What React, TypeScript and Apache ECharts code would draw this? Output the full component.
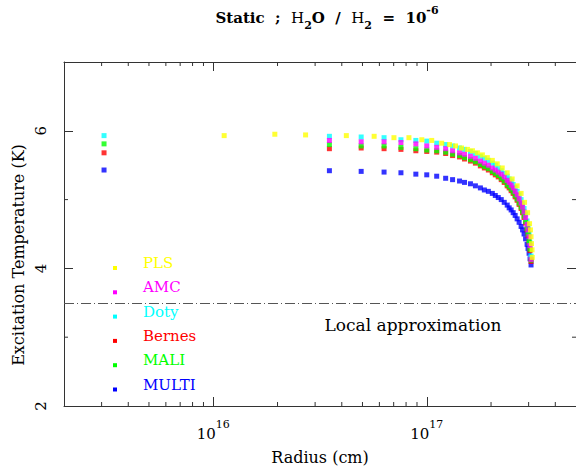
import React, { useEffect, useRef } from 'react';
import * as echarts from 'echarts';

const FONT = 'DejaVu Serif';

const seriesNames = ['PLS', 'AMC', 'Doty', 'Bernes', 'MALI', 'MULTI'];
const seriesColors = ['#ffff00', '#ff00ff', '#00ffff', '#ff0000', '#00ff00', '#0000ff'];

// shared radial grid (cm) for AMC, Doty, Bernes, MALI, MULTI
const gridRadius = [
  3.08e15, 3.5e16, 4.93e16, 6.31e16, 7.57e16, 8.89e16, 1.0e17, 1.113e17, 1.226e17, 1.321e17,
  1.424e17, 1.502e17, 1.602e17, 1.69e17, 1.783e17, 1.861e17, 1.943e17, 2.028e17, 2.094e17, 2.162e17,
  2.233e17, 2.306e17, 2.381e17, 2.432e17, 2.485e17, 2.539e17, 2.594e17, 2.65e17, 2.707e17, 2.766e17,
  2.81e17, 2.856e17, 2.903e17, 2.95e17, 2.981e17, 3.014e17, 3.046e17, 3.079e17,
];
const multiTemp = [
  5.43, 5.42, 5.41, 5.4, 5.39, 5.37, 5.36, 5.34, 5.31, 5.29,
  5.27, 5.25, 5.23, 5.2, 5.17, 5.14, 5.12, 5.09, 5.06, 5.03,
  5.0, 4.96, 4.92, 4.88, 4.85, 4.81, 4.77, 4.72, 4.67, 4.61,
  4.56, 4.5, 4.43, 4.35, 4.29, 4.22, 4.14, 4.05,
];
const dotyTemp = [
  5.93, 5.92, 5.91, 5.9, 5.87, 5.86, 5.85, 5.82, 5.8, 5.78,
  5.75, 5.73, 5.7, 5.67, 5.63, 5.6, 5.57, 5.53, 5.5, 5.46,
  5.42, 5.38, 5.34, 5.3, 5.27, 5.22, 5.18, 5.12, 5.07, 5.0,
  4.94, 4.87, 4.79, 4.69, 4.61, 4.51, 4.37, 4.18,
];
const amcTemp = [
  null, 5.86, 5.84, 5.84, 5.83, 5.81, 5.78, 5.76, 5.74, 5.71,
  5.68, 5.66, 5.63, 5.6, 5.56, 5.53, 5.5, 5.46, 5.43, 5.4,
  5.37, 5.33, 5.28, 5.25, 5.21, 5.17, 5.12, 5.07, 5.01, 4.95,
  4.89, 4.82, 4.74, 4.64, 4.56, 4.46, 4.33, 4.13,
];
const maliTemp = [
  5.81, 5.8, 5.78, 5.78, 5.76, 5.74, 5.72, 5.71, 5.69, 5.66,
  5.64, 5.61, 5.58, 5.55, 5.51, 5.48, 5.45, 5.41, 5.38, 5.35,
  5.31, 5.27, 5.22, 5.19, 5.15, 5.11, 5.06, 5.01, 4.95, 4.89,
  4.83, 4.76, 4.68, 4.58, 4.5, 4.4, 4.28, 4.12,
];
const bernesTemp = [
  5.68, 5.74, 5.75, 5.74, 5.73, 5.71, 5.7, 5.69, 5.67, 5.64,
  5.62, 5.59, 5.56, 5.53, 5.49, 5.46, 5.43, 5.39, 5.36, 5.33,
  5.29, 5.25, 5.2, 5.17, 5.13, 5.09, 5.04, 4.99, 4.93, 4.87,
  4.81, 4.74, 4.66, 4.56, 4.48, 4.38, 4.26, 4.1,
];
// PLS has its own radial grid
const plsRadius = [
  1.125e16, 1.943e16, 2.707e16, 4.201e16, 5.67e16, 7.02e16, 8.25e16, 9.48e16, 1.055e17, 1.175e17,
  1.279e17, 1.364e17, 1.455e17, 1.551e17, 1.637e17, 1.727e17, 1.822e17, 1.922e17, 2.028e17, 2.139e17,
  2.257e17, 2.381e17, 2.512e17, 2.65e17, 2.766e17, 2.871e17, 2.966e17, 3.03e17, 3.06e17, 3.079e17,
  3.095e17, 3.112e17, 3.12e17,
];
const plsTemp = [
  5.93, 5.95, 5.94, 5.93, 5.92, 5.9, 5.9, 5.87, 5.86, 5.82,
  5.8, 5.78, 5.75, 5.73, 5.71, 5.68, 5.65, 5.61, 5.57, 5.52,
  5.46, 5.39, 5.3, 5.2, 5.09, 4.96, 4.81, 4.65, 4.56, 4.46,
  4.36, 4.27, 4.16,
];

const X_MIN = 2e15;
const X_MAX = 5e17;
const Y_MIN = 2;
const Y_MAX = 7;
const xMinorTicks = [
  3e15, 4e15, 5e15, 6e15, 7e15, 8e15, 9e15,
  2e16, 3e16, 4e16, 5e16, 6e16, 7e16, 8e16, 9e16,
  2e17, 3e17, 4e17,
];
const yMinorTicks = [3, 5];
const localApproxLevel = 3.5;

function pairs(rs: number[], ts: (number | null)[]) {
  const out: number[][] = [];
  rs.forEach((r, i) => {
    const t = ts[i];
    if (t != null) out.push([r, t]);
  });
  return out;
}

export default function App() {
  const ref = useRef<HTMLDivElement>(null);
  useEffect(() => {
    const chart = echarts.init(ref.current!, undefined, { renderer: 'svg' });

    const dataByName: Record<string, number[][]> = {
      PLS: pairs(plsRadius, plsTemp),
      AMC: pairs(gridRadius, amcTemp),
      Doty: pairs(gridRadius, dotyTemp),
      Bernes: pairs(gridRadius, bernesTemp),
      MALI: pairs(gridRadius, maliTemp),
      MULTI: pairs(gridRadius, multiTemp),
    };
    const drawOrder = ['MULTI', 'Bernes', 'Doty', 'MALI', 'AMC', 'PLS'];
    const scatterSeries = drawOrder.map((name, k) => ({
      type: 'scatter',
      name,
      xAxisIndex: 0,
      yAxisIndex: 0,
      symbol: 'rect',
      symbolSize: 5,
      itemStyle: { color: seriesColors[seriesNames.indexOf(name)] },
      data: dataByName[name],
      z: 3 + k,
      markLine:
        name === 'MULTI'
          ? {
              silent: true,
              symbol: 'none',
              label: { show: false },
              lineStyle: { color: '#555', type: [10, 3, 1, 3], width: 1 },
              data: [{ yAxis: localApproxLevel }],
            }
          : undefined,
    }));

    const tickColor = '#333';
    const xMinorSeries = {
      type: 'custom',
      xAxisIndex: 0,
      yAxisIndex: 0,
      silent: true,
      z: 2,
      data: xMinorTicks.map((v) => [v, Y_MIN]),
      renderItem: (params: any, api: any) => {
        const v = api.value(0);
        const b = api.coord([v, Y_MIN]);
        const t = api.coord([v, Y_MAX]);
        return {
          type: 'group',
          children: [
            { type: 'line', shape: { x1: b[0], y1: b[1], x2: b[0], y2: b[1] - 4 }, style: { stroke: tickColor, lineWidth: 1 } },
            { type: 'line', shape: { x1: t[0], y1: t[1], x2: t[0], y2: t[1] + 4 }, style: { stroke: tickColor, lineWidth: 1 } },
          ],
        };
      },
    };
    const yMinorSeries = {
      type: 'custom',
      xAxisIndex: 0,
      yAxisIndex: 0,
      silent: true,
      z: 2,
      clip: false,
      data: yMinorTicks.map((v) => [X_MIN, v]),
      renderItem: (params: any, api: any) => {
        const v = api.value(1);
        const l = api.coord([X_MIN, v]);
        const r = api.coord([X_MAX, v]);
        return {
          type: 'group',
          children: [
            { type: 'line', shape: { x1: l[0], y1: l[1], x2: l[0] + 4, y2: l[1] }, style: { stroke: tickColor, lineWidth: 1 } },
            { type: 'line', shape: { x1: r[0], y1: r[1], x2: r[0] - 4, y2: r[1] }, style: { stroke: tickColor, lineWidth: 1 } },
          ],
        };
      },
    };

    const axisLine = { show: true, onZero: false, lineStyle: { color: tickColor, width: 1 } };
    const axisTick = { show: true, inside: true, length: 9, lineStyle: { color: tickColor } };

    const xLabelFormatter = (v: number) => {
      const e = Math.log10(v);
      if (Math.abs(e - Math.round(e)) > 1e-6) return '';
      return '{b|10}{s|' + Math.round(e) + '}';
    };
    const xRich = {
      b: { fontFamily: FONT, fontSize: 15, color: '#000', lineHeight: 22, verticalAlign: 'bottom' },
      s: { fontFamily: FONT, fontSize: 11, color: '#000', lineHeight: 22, verticalAlign: 'top' },
    };

    const legendGraphics: any[] = [];
    seriesNames.forEach((name, i) => {
      const cy = 268 + i * 24.3;
      legendGraphics.push({
        type: 'rect',
        shape: { x: 113, y: cy - 2, width: 4, height: 4 },
        style: { fill: seriesColors[i] },
      });
      legendGraphics.push({
        type: 'text',
        x: 143,
        y: cy - 5,
        style: {
          text: name,
          fill: seriesColors[i],
          font: '15px "' + FONT + '"',
          align: 'left',
          verticalAlign: 'middle',
        },
      });
    });

    const option: any = {
      animation: false,
      backgroundColor: '#ffffff',
      grid: { left: 64, top: 62, width: 515, height: 350, containLabel: false },
      xAxis: [
        {
          type: 'log',
          logBase: 10,
          min: X_MIN,
          max: X_MAX,
          position: 'bottom',
          name: 'Radius (cm)',
          nameLocation: 'middle',
          nameGap: 43,
          nameTextStyle: { fontFamily: FONT, fontSize: 16, color: '#000' },
          axisLine,
          axisTick,
          splitLine: { show: false },
          minorTick: { show: false },
          axisLabel: {
            margin: 13,
            showMinLabel: false,
            showMaxLabel: false,
            formatter: xLabelFormatter,
            rich: xRich,
          },
        },
        {
          type: 'log',
          logBase: 10,
          min: X_MIN,
          max: X_MAX,
          position: 'top',
          axisLine,
          axisTick,
          splitLine: { show: false },
          axisLabel: { show: false },
        },
      ],
      yAxis: [
        {
          type: 'value',
          min: Y_MIN,
          max: Y_MAX,
          interval: 2,
          position: 'left',
          axisLine,
          axisTick,
          splitLine: { show: false },
          axisLabel: {
            rotate: 90,
            margin: 16,
            fontFamily: FONT,
            fontSize: 15,
            color: '#000',
            formatter: (v: number) => (v === Y_MAX ? '' : String(v)),
          },
        },
        {
          type: 'value',
          min: Y_MIN,
          max: Y_MAX,
          interval: 2,
          position: 'right',
          axisLine,
          axisTick,
          splitLine: { show: false },
          axisLabel: { show: false },
        },
      ],
      graphic: [
        {
          type: 'text',
          x: 327,
          y: 18,
          style: {
            text: '{b|Static  ;  }{r|H}{sub|2}{b|O  /  }{r|H}{sub|2}{b|  =  10}{sup|-6}',
            align: 'center',
            verticalAlign: 'middle',
            rich: {
              b: { fontFamily: FONT, fontWeight: 'bold', fontSize: 15, lineHeight: 26, verticalAlign: 'middle', fill: '#000' },
              r: { fontFamily: FONT, fontSize: 15, lineHeight: 26, verticalAlign: 'middle', fill: '#000' },
              sub: { fontFamily: FONT, fontWeight: 'bold', fontSize: 11, lineHeight: 26, verticalAlign: 'bottom', fill: '#000' },
              sup: { fontFamily: FONT, fontWeight: 'bold', fontSize: 11, lineHeight: 26, verticalAlign: 'top', fill: '#000' },
            },
          },
        },
        {
          type: 'text',
          x: 18,
          y: 255,
          rotation: Math.PI / 2,
          style: {
            text: 'Excitation Temperature (K)',
            font: '16px "' + FONT + '"',
            fill: '#000',
            align: 'center',
            verticalAlign: 'middle',
          },
        },
        {
          type: 'text',
          x: 413,
          y: 325,
          style: {
            text: 'Local approximation',
            font: '17px "' + FONT + '"',
            fill: '#000',
            align: 'center',
            verticalAlign: 'middle',
          },
        },
        ...legendGraphics,
      ],
      series: [xMinorSeries, yMinorSeries, ...scatterSeries],
    };

    chart.setOption(option);
    return () => chart.dispose();
  }, []);

  return <div ref={ref} style={{ position: 'fixed', left: 0, top: 0, width: 576, height: 470 }} />;
}
